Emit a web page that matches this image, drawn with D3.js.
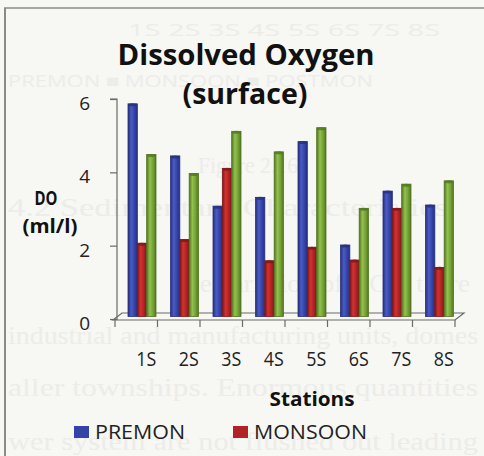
<!DOCTYPE html>
<html><head><meta charset="utf-8">
<script src="https://cdn.jsdelivr.net/npm/d3@7"></script>
<style>
html,body{margin:0;padding:0;background:#f7f7f4;}
svg{display:block;}
</style></head>
<body>
<svg id="c" width="484" height="456"></svg>
<script>
const stations = ["1S","2S","3S","4S","5S","6S","7S","8S"];
const seriesNames = ["PREMON","MONSOON","POSTMON"];
const premon  = [5.8, 4.38, 3.01, 3.25, 4.77, 1.95, 3.42, 3.04];
const monsoon = [2.0, 2.10, 4.04, 1.52, 1.89, 1.54, 2.95, 1.34];
const postmon = [4.42, 3.90, 5.05, 4.49, 5.15, 2.95, 3.61, 3.70];
const yTicks = [0, 2, 4, 6];
const legendNames = ["PREMON","MONSOON"];
const bleedLines = [
  {t:"1S   2S   3S   4S   5S   6S   7S   8S", x:128, y:36, s:17, w:312, f:"sans"},
  {t:"PREMON ■ MONSOON ■ POSTMON", x:8, y:87, s:17, w:365, f:"sans"},
  {t:"Figure 2.16", x:198, y:173, s:24, w:100, f:"serif"},
  {t:"4.2 Sedimentary Characteristics", x:8, y:216, s:25, w:440, f:"serif"},
  {t:"The   variation of OC/S there", x:170, y:292, s:26, w:300, f:"serif"},
  {t:"industrial and manufacturing units, domes", x:8, y:344, s:25, w:470, f:"serif"},
  {t:"aller townships.  Enormous quantities", x:8, y:396, s:25, w:470, f:"serif"},
  {t:"wer system are not flushed out  leading", x:8, y:450, s:25, w:470, f:"serif"}
];

const svg = d3.select("#c");
const colors = {PREMON:["#26307a","#4a5bc6","#3343a8"], MONSOON:["#7d1618","#d3322f","#b02226"], POSTMON:["#527422","#92c24c","#74a034"]};
const FONT = "'Open Sans', sans-serif";

// gradients
const defs = svg.append("defs");
seriesNames.forEach(n => {
  const g = defs.append("linearGradient").attr("id","g"+n).attr("x1","0").attr("x2","1").attr("y1","0").attr("y2","0");
  g.append("stop").attr("offset","0").attr("stop-color",colors[n][0]);
  g.append("stop").attr("offset","0.35").attr("stop-color",colors[n][1]);
  g.append("stop").attr("offset","0.7").attr("stop-color",colors[n][2]);
  g.append("stop").attr("offset","1").attr("stop-color",colors[n][0]);
});

// faint bleed-through text from the scanned page
const bg = svg.append("g");
bleedLines.forEach(l => {
  bg.append("text").attr("x",l.x).attr("y",l.y)
    .attr("font-family", l.f==="serif" ? "'Liberation Serif', serif" : FONT)
    .attr("font-size", l.s).attr("fill","#ecece9")
    .attr("textLength", l.w).attr("lengthAdjust","spacingAndGlyphs").text(l.t);
});

// frame
svg.append("line").attr("x1",4).attr("x2",484).attr("y1",8).attr("y2",8).attr("stroke","#8a8a88").attr("stroke-width",1.5);
svg.append("line").attr("x1",5).attr("x2",5).attr("y1",8).attr("y2",456).attr("stroke","#8a8a88").attr("stroke-width",2);

const x = d3.scaleBand().domain(stations).range([115, 455]).paddingInner(0).paddingOuter(0);
const y = d3.scaleLinear().domain([0, 6]).range([319, 99]);
const xs = d3.scaleBand().domain(seriesNames).range([0, 28]);

// floor
const fl = svg.append("g").attr("stroke","#6a6a6a").attr("stroke-width",1.2).attr("fill","none");
fl.append("path").attr("d",`M${x.range()[0]-2},${y(0)+1}L${x.range()[1]},${y(0)+1}L${x.range()[1]+9},${y(0)-6}L${x.range()[0]+7},${y(0)-6}Z`);

// bars
const bars = svg.append("g").attr("transform","translate(13,-2.5)");
const data = stations.map((s,i)=>({s, vals:[premon[i], monsoon[i], postmon[i]]}));
const grp = bars.selectAll("g.st").data(data).join("g").attr("transform", d=>`translate(${x(d.s)},0)`);
grp.selectAll("rect").data(d=>d.vals.map((v,j)=>({v, n:seriesNames[j]}))).join("rect")
  .attr("x", d=>xs(d.n)).attr("width", xs.bandwidth())
  .attr("y", d=>y(d.v)).attr("height", d=>y(0)-y(d.v))
  .attr("fill", d=>`url(#g${d.n})`).attr("stroke", d=>colors[d.n][0]).attr("stroke-width",0.8);
grp.selectAll("ellipse").data(d=>d.vals.map((v,j)=>({v, n:seriesNames[j]}))).join("ellipse")
  .attr("cx", d=>xs(d.n)+xs.bandwidth()/2).attr("cy", d=>y(d.v)+1).attr("rx", xs.bandwidth()/2-0.5).attr("ry",1.5)
  .attr("fill", d=>colors[d.n][0]).attr("opacity",0.8);

// y axis
const ya = svg.append("g").attr("transform",`translate(117,0)`)
  .call(d3.axisLeft(y).tickValues(yTicks).tickSize(7).tickPadding(20).tickFormat(d3.format("d")));
ya.select(".domain").attr("stroke","#6a6a6a").attr("stroke-width",1.2).attr("d",`M-7,${y(6)}H0V${y(0)+1}`);
ya.selectAll(".tick line").attr("stroke","#6a6a6a").attr("stroke-width",1.2);
ya.selectAll(".tick text").attr("font-family",FONT).attr("font-size",19).attr("fill","#222").attr("dy","0.55em");

// x axis ticks and labels
const xa = svg.append("g").attr("transform",`translate(0,${y(0)+1})`)
  .call(d3.axisBottom(x).tickSize(0).tickPadding(32));
xa.select(".domain").remove();
xa.selectAll(".tick text").attr("font-family",FONT).attr("font-size",20).attr("fill","#222").attr("dx",10)
  .attr("textLength",20).attr("lengthAdjust","spacingAndGlyphs");
const edges = stations.map(s=>x(s)).concat([x.range()[1]]);
svg.append("g").selectAll("line").data(edges).join("line")
  .attr("x1",d=>d).attr("x2",d=>d).attr("y1",y(0)+1).attr("y2",y(0)+8).attr("stroke","#6a6a6a").attr("stroke-width",1.2);

function label(txt, cx, by, fs, w, bold){
  return svg.append("text").attr("x",cx).attr("y",by).attr("text-anchor","middle").attr("font-family",FONT)
    .attr("font-weight", bold ? "bold" : "normal").attr("font-size",fs).attr("fill","#111")
    .attr("textLength",w).attr("lengthAdjust","spacingAndGlyphs").text(txt);
}
label("Dissolved Oxygen", 246, 65, 29, 257, true);
label("(surface)", 245, 104, 29, 125, true);
label("DO", 46, 205, 19, 23, true);
label("(ml/l)", 50, 233, 19, 55, true);
label("Stations", 312, 406, 20, 85, true);

// legend
const legX = [74, 233];
const legW = [90, 113];
const lg = svg.append("g").selectAll("g").data(legendNames).join("g").attr("transform",(d,i)=>`translate(${legX[i]},426)`);
lg.append("rect").attr("width",15).attr("height",12).attr("fill",d=>colors[d][2]);
lg.append("text").attr("x",21).attr("y",13).attr("font-family",FONT).attr("font-size",20).attr("fill","#222")
  .attr("textLength",(d,i)=>legW[i]).attr("lengthAdjust","spacingAndGlyphs").text(d=>d);
</script>
</body></html>
